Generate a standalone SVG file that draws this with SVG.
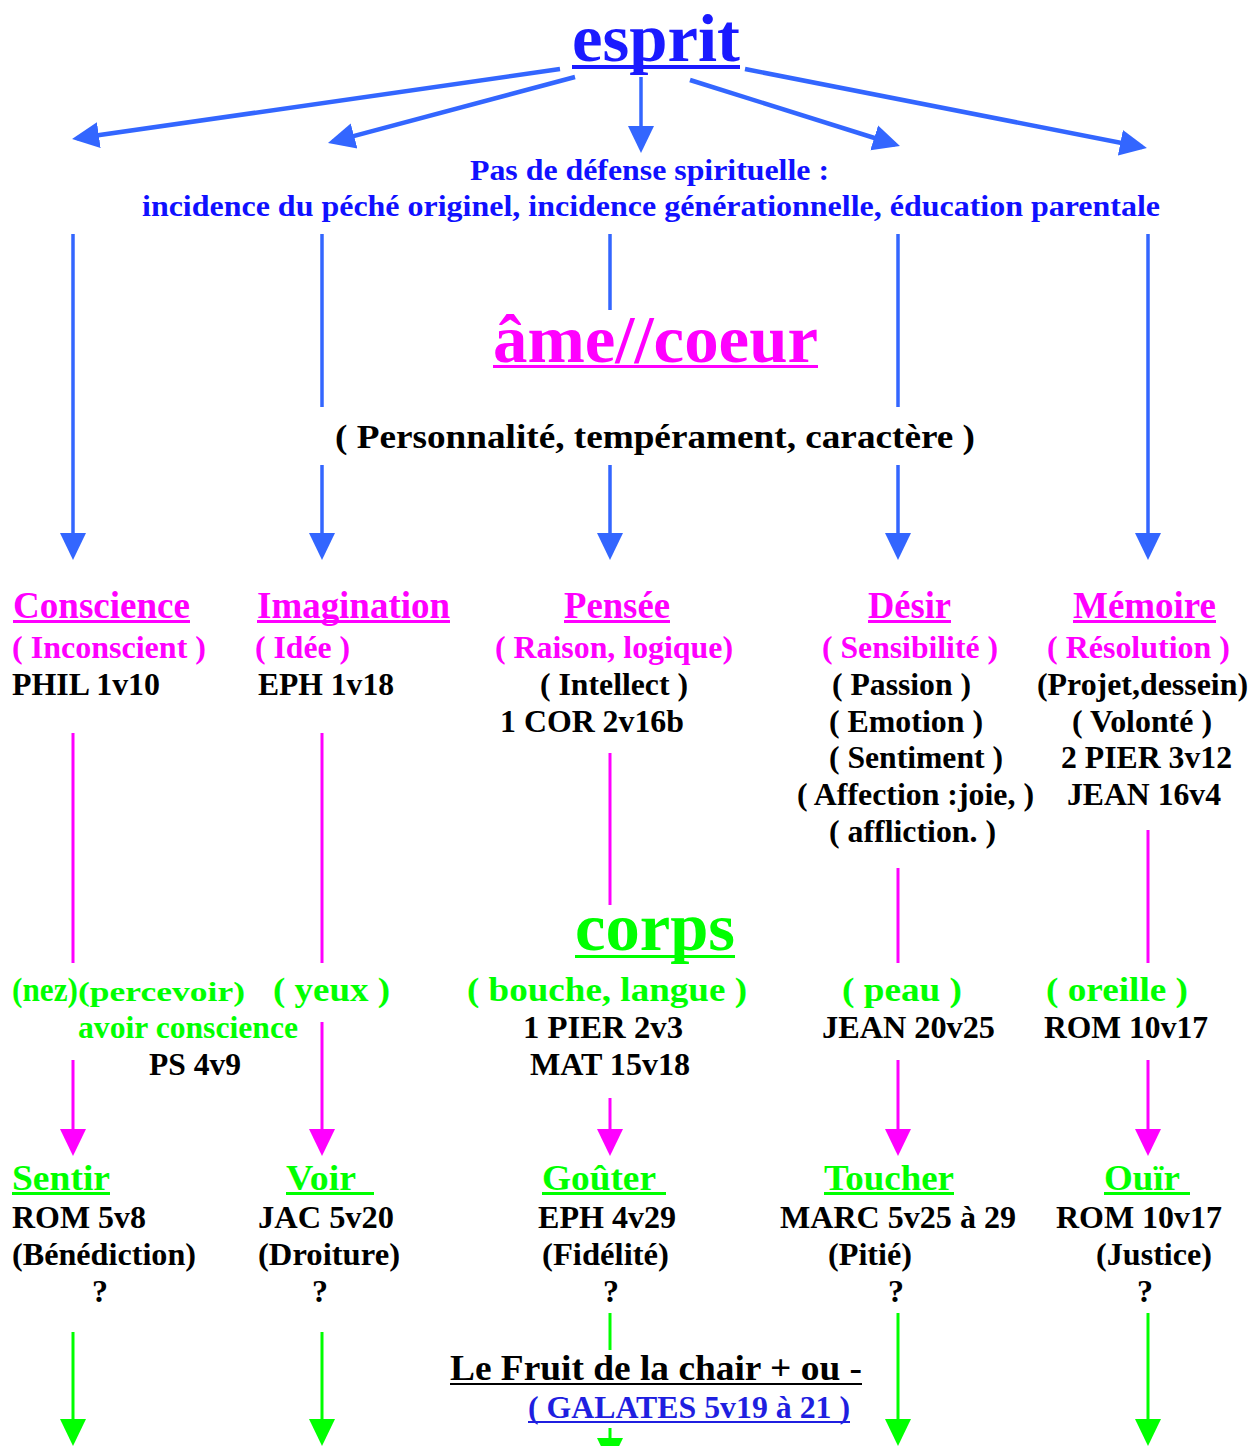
<svg xmlns="http://www.w3.org/2000/svg" width="1252" height="1446" viewBox="0 0 1252 1446">
<style>
text{font-family:"Liberation Serif","Times New Roman",serif;font-weight:bold;}
.bl{fill:#000}
.mg{fill:#ff00ff}
.gr{fill:#00ff00}
.bu{fill:#1a1aff}
.h{font-size:37px}
.s2{font-size:31px}
.s1{font-size:32px}
.big{font-size:68px}
.lb{stroke:#3366ff;fill:none}
.lm{stroke:#ff00ff;stroke-width:3;fill:none}
.lg{stroke:#00ff00;stroke-width:3;fill:none}
</style>
<defs>
<marker id="ab" markerUnits="userSpaceOnUse" markerWidth="28" markerHeight="28" viewBox="0 0 28 28" refX="22" refY="14" orient="auto"><path d="M0,1 L27,14 L0,27 Z" fill="#3366ff"/></marker>
<marker id="am" markerUnits="userSpaceOnUse" markerWidth="28" markerHeight="28" viewBox="0 0 28 28" refX="22" refY="14" orient="auto"><path d="M0,1 L27,14 L0,27 Z" fill="#ff00ff"/></marker>
<marker id="ag" markerUnits="userSpaceOnUse" markerWidth="28" markerHeight="28" viewBox="0 0 28 28" refX="22" refY="14" orient="auto"><path d="M0,1 L27,14 L0,27 Z" fill="#00ff00"/></marker>
</defs>
<rect width="1252" height="1446" fill="#fff"/>

<g id="connectors">
<!-- from esprit -->
<line class="lb" stroke-width="4.5" x1="560" y1="69" x2="77" y2="138.3" marker-end="url(#ab)"/>
<line class="lb" stroke-width="4.5" x1="575" y1="77" x2="332.8" y2="141.7" marker-end="url(#ab)"/>
<line class="lb" stroke-width="3.5" x1="641" y1="77" x2="641" y2="148" marker-end="url(#ab)"/>
<line class="lb" stroke-width="4.5" x1="690" y1="80" x2="895.2" y2="144.5" marker-end="url(#ab)"/>
<line class="lb" stroke-width="4.5" x1="745" y1="69" x2="1142" y2="147" marker-end="url(#ab)"/>
<!-- blue verticals -->
<line class="lb" stroke-width="3.5" x1="73" y1="234" x2="73" y2="555" marker-end="url(#ab)"/>
<line class="lb" stroke-width="3.5" x1="322" y1="234" x2="322" y2="407"/>
<line class="lb" stroke-width="3.5" x1="322" y1="465" x2="322" y2="555" marker-end="url(#ab)"/>
<line class="lb" stroke-width="3.5" x1="610" y1="234" x2="610" y2="310"/>
<line class="lb" stroke-width="3.5" x1="610" y1="465" x2="610" y2="555" marker-end="url(#ab)"/>
<line class="lb" stroke-width="3.5" x1="898" y1="234" x2="898" y2="407"/>
<line class="lb" stroke-width="3.5" x1="898" y1="465" x2="898" y2="555" marker-end="url(#ab)"/>
<line class="lb" stroke-width="3.5" x1="1148" y1="234" x2="1148" y2="555" marker-end="url(#ab)"/>
<!-- magenta -->
<line class="lm" x1="73" y1="733" x2="73" y2="963"/>
<line class="lm" x1="73" y1="1060" x2="73" y2="1151" marker-end="url(#am)"/>
<line class="lm" x1="322" y1="733" x2="322" y2="963"/>
<line class="lm" x1="322" y1="1022" x2="322" y2="1151" marker-end="url(#am)"/>
<line class="lm" x1="610" y1="753" x2="610" y2="905"/>
<line class="lm" x1="610" y1="1098" x2="610" y2="1151" marker-end="url(#am)"/>
<line class="lm" x1="898" y1="868" x2="898" y2="963"/>
<line class="lm" x1="898" y1="1060" x2="898" y2="1151" marker-end="url(#am)"/>
<line class="lm" x1="1148" y1="830" x2="1148" y2="963"/>
<line class="lm" x1="1148" y1="1060" x2="1148" y2="1151" marker-end="url(#am)"/>
<!-- green -->
<line class="lg" x1="73" y1="1332" x2="73" y2="1441" marker-end="url(#ag)"/>
<line class="lg" x1="322" y1="1332" x2="322" y2="1441" marker-end="url(#ag)"/>
<line class="lg" x1="610" y1="1313" x2="610" y2="1350"/>
<line class="lg" x1="610" y1="1428" x2="610" y2="1460" marker-end="url(#ag)"/>
<line class="lg" x1="898" y1="1313" x2="898" y2="1441" marker-end="url(#ag)"/>
<line class="lg" x1="1148" y1="1313" x2="1148" y2="1441" marker-end="url(#ag)"/>
</g>

<g id="esprit">
<text class="bu big" x="572" y="61" textLength="168" lengthAdjust="spacingAndGlyphs">esprit</text>
<rect x="572" y="65" width="168" height="4" fill="#1a1aff"/>
</g>
<g id="defense">
<text style="fill:#1010ff;font-size:30px" x="470" y="180" textLength="359" lengthAdjust="spacingAndGlyphs">Pas de défense spirituelle :</text>
<text style="fill:#1010ff;font-size:30px" x="142" y="216" textLength="1018" lengthAdjust="spacingAndGlyphs">incidence du péché originel, incidence générationnelle, éducation parentale</text>
</g>
<g id="ame">
<text class="mg big" x="493" y="362" textLength="325" lengthAdjust="spacingAndGlyphs">âme//coeur</text>
<rect x="493" y="365" width="325" height="3" fill="#ff00ff"/>
<text class="bl" style="font-size:34px" x="335" y="448" textLength="640" lengthAdjust="spacingAndGlyphs">( Personnalité, tempérament, caractère )</text>
</g>

<g id="conscience">
<text class="mg h" x="13" y="618" textLength="177" lengthAdjust="spacingAndGlyphs">Conscience</text>
<rect x="13" y="620" width="177" height="3" fill="#ff00ff"/>
<text class="mg s2" x="12" y="658" textLength="194" lengthAdjust="spacingAndGlyphs">( Inconscient )</text>
<text class="bl s1" x="12" y="695" textLength="148" lengthAdjust="spacingAndGlyphs">PHIL 1v10</text>
</g>
<g id="imagination">
<text class="mg h" x="257" y="618" textLength="193" lengthAdjust="spacingAndGlyphs">Imagination</text>
<rect x="257" y="620" width="193" height="3" fill="#ff00ff"/>
<text class="mg s2" x="255" y="658" textLength="95" lengthAdjust="spacingAndGlyphs">( Idée )</text>
<text class="bl s1" x="258" y="695" textLength="136" lengthAdjust="spacingAndGlyphs">EPH 1v18</text>
</g>
<g id="pensee">
<text class="mg h" x="564" y="618" textLength="106" lengthAdjust="spacingAndGlyphs">Pensée</text>
<rect x="564" y="620" width="106" height="3" fill="#ff00ff"/>
<text class="mg s2" x="495" y="658" textLength="238" lengthAdjust="spacingAndGlyphs">( Raison, logique)</text>
<text class="bl s1" x="540" y="695" textLength="148" lengthAdjust="spacingAndGlyphs">( Intellect )</text>
<text class="bl s1" x="500" y="732" textLength="184" lengthAdjust="spacingAndGlyphs">1 COR 2v16b</text>
</g>
<g id="desir">
<text class="mg h" x="868" y="618" textLength="83" lengthAdjust="spacingAndGlyphs">Désir</text>
<rect x="868" y="620" width="83" height="3" fill="#ff00ff"/>
<text class="mg s2" x="822" y="658" textLength="176" lengthAdjust="spacingAndGlyphs">( Sensibilité )</text>
<text class="bl s1" x="832" y="695" textLength="139" lengthAdjust="spacingAndGlyphs">( Passion )</text>
<text class="bl s1" x="829" y="732" textLength="154" lengthAdjust="spacingAndGlyphs">( Emotion )</text>
<text class="bl s1" x="829" y="768" textLength="174" lengthAdjust="spacingAndGlyphs">( Sentiment )</text>
<text class="bl s1" x="797" y="805" textLength="237" lengthAdjust="spacingAndGlyphs">( Affection :joie, )</text>
<text class="bl s1" x="829" y="842" textLength="167" lengthAdjust="spacingAndGlyphs">( affliction. )</text>
</g>
<g id="memoire">
<text class="mg h" x="1073" y="618" textLength="143" lengthAdjust="spacingAndGlyphs">Mémoire</text>
<rect x="1073" y="620" width="143" height="3" fill="#ff00ff"/>
<text class="mg s2" x="1047" y="658" textLength="183" lengthAdjust="spacingAndGlyphs">( Résolution )</text>
<text class="bl s1" x="1037" y="695" textLength="211" lengthAdjust="spacingAndGlyphs">(Projet,dessein)</text>
<text class="bl s1" x="1072" y="732" textLength="140" lengthAdjust="spacingAndGlyphs">( Volonté )</text>
<text class="bl s1" x="1061" y="768" textLength="171" lengthAdjust="spacingAndGlyphs">2 PIER 3v12</text>
<text class="bl s1" x="1067" y="805" textLength="154" lengthAdjust="spacingAndGlyphs">JEAN 16v4</text>
</g>

<g id="corps">
<text class="gr big" x="575" y="950" textLength="160" lengthAdjust="spacingAndGlyphs">corps</text>
<rect x="575" y="955" width="160" height="3" fill="#00ff00"/>
</g>
<g id="nez">
<text class="gr" style="font-size:34px" x="12" y="1001" textLength="66" lengthAdjust="spacingAndGlyphs">(nez)</text>
<text class="gr" style="font-size:28px" x="78" y="1001" textLength="167" lengthAdjust="spacingAndGlyphs">(percevoir)</text>
<text class="gr s2" x="78" y="1038" textLength="220" lengthAdjust="spacingAndGlyphs">avoir conscience</text>
<text class="bl s1" x="149" y="1075" textLength="92" lengthAdjust="spacingAndGlyphs">PS 4v9</text>
</g>
<g id="yeux">
<text class="gr" style="font-size:34px" x="273" y="1001" textLength="117" lengthAdjust="spacingAndGlyphs">( yeux )</text>
</g>
<g id="bouche">
<text class="gr" style="font-size:34px" x="467" y="1001" textLength="280" lengthAdjust="spacingAndGlyphs">( bouche, langue )</text>
<text class="bl s1" x="523" y="1038" textLength="160" lengthAdjust="spacingAndGlyphs">1 PIER 2v3</text>
<text class="bl s1" x="530" y="1075" textLength="160" lengthAdjust="spacingAndGlyphs">MAT 15v18</text>
</g>
<g id="peau">
<text class="gr" style="font-size:34px" x="842" y="1001" textLength="120" lengthAdjust="spacingAndGlyphs">( peau )</text>
<text class="bl s1" x="822" y="1038" textLength="173" lengthAdjust="spacingAndGlyphs">JEAN 20v25</text>
</g>
<g id="oreille">
<text class="gr" style="font-size:34px" x="1046" y="1001" textLength="142" lengthAdjust="spacingAndGlyphs">( oreille )</text>
<text class="bl s1" x="1044" y="1038" textLength="164" lengthAdjust="spacingAndGlyphs">ROM 10v17</text>
</g>

<g id="sentir">
<text class="gr" style="font-size:36px" x="12" y="1190" textLength="98" lengthAdjust="spacingAndGlyphs">Sentir</text>
<rect x="12" y="1192" width="98" height="3" fill="#00ff00"/>
<text class="bl s1" x="12" y="1228" textLength="134" lengthAdjust="spacingAndGlyphs">ROM 5v8</text>
<text class="bl s1" x="12" y="1265" textLength="184" lengthAdjust="spacingAndGlyphs">(Bénédiction)</text>
<text class="bl s1" x="100" y="1302" text-anchor="middle">?</text>
</g>
<g id="voir">
<text class="gr" style="font-size:36px" x="286" y="1190" textLength="70" lengthAdjust="spacingAndGlyphs">Voir</text>
<rect x="286" y="1192" width="88" height="3" fill="#00ff00"/>
<text class="bl s1" x="258" y="1228" textLength="136" lengthAdjust="spacingAndGlyphs">JAC 5v20</text>
<text class="bl s1" x="258" y="1265" textLength="142" lengthAdjust="spacingAndGlyphs">(Droiture)</text>
<text class="bl s1" x="320" y="1302" text-anchor="middle">?</text>
</g>
<g id="gouter">
<text class="gr" style="font-size:36px" x="542" y="1190" textLength="114" lengthAdjust="spacingAndGlyphs">Goûter</text>
<rect x="542" y="1192" width="124" height="3" fill="#00ff00"/>
<text class="bl s1" x="538" y="1228" textLength="138" lengthAdjust="spacingAndGlyphs">EPH 4v29</text>
<text class="bl s1" x="542" y="1265" textLength="127" lengthAdjust="spacingAndGlyphs">(Fidélité)</text>
<text class="bl s1" x="611" y="1302" text-anchor="middle">?</text>
</g>
<g id="toucher">
<text class="gr" style="font-size:36px" x="824" y="1190" textLength="130" lengthAdjust="spacingAndGlyphs">Toucher</text>
<rect x="824" y="1192" width="130" height="3" fill="#00ff00"/>
<text class="bl s1" x="780" y="1228" textLength="236" lengthAdjust="spacingAndGlyphs">MARC 5v25 à 29</text>
<text class="bl s1" x="828" y="1265" textLength="84" lengthAdjust="spacingAndGlyphs">(Pitié)</text>
<text class="bl s1" x="896" y="1302" text-anchor="middle">?</text>
</g>
<g id="ouir">
<text class="gr" style="font-size:36px" x="1104" y="1190" textLength="76" lengthAdjust="spacingAndGlyphs">Ouïr</text>
<rect x="1104" y="1192" width="86" height="3" fill="#00ff00"/>
<text class="bl s1" x="1056" y="1228" textLength="166" lengthAdjust="spacingAndGlyphs">ROM 10v17</text>
<text class="bl s1" x="1096" y="1265" textLength="116" lengthAdjust="spacingAndGlyphs">(Justice)</text>
<text class="bl s1" x="1145" y="1302" text-anchor="middle">?</text>
</g>
<g id="fruit">
<text class="bl" style="font-size:35px" x="450" y="1380" textLength="412" lengthAdjust="spacingAndGlyphs">Le Fruit de la chair + ou -</text>
<rect x="450" y="1383" width="412" height="2" fill="#000"/>
<text style="fill:#1f1fe0;font-size:32px" x="528" y="1418" textLength="322" lengthAdjust="spacingAndGlyphs">( GALATES 5v19 à 21 )</text>
<rect x="528" y="1421" width="322" height="2" fill="#1f1fe0"/>
</g>
</svg>
